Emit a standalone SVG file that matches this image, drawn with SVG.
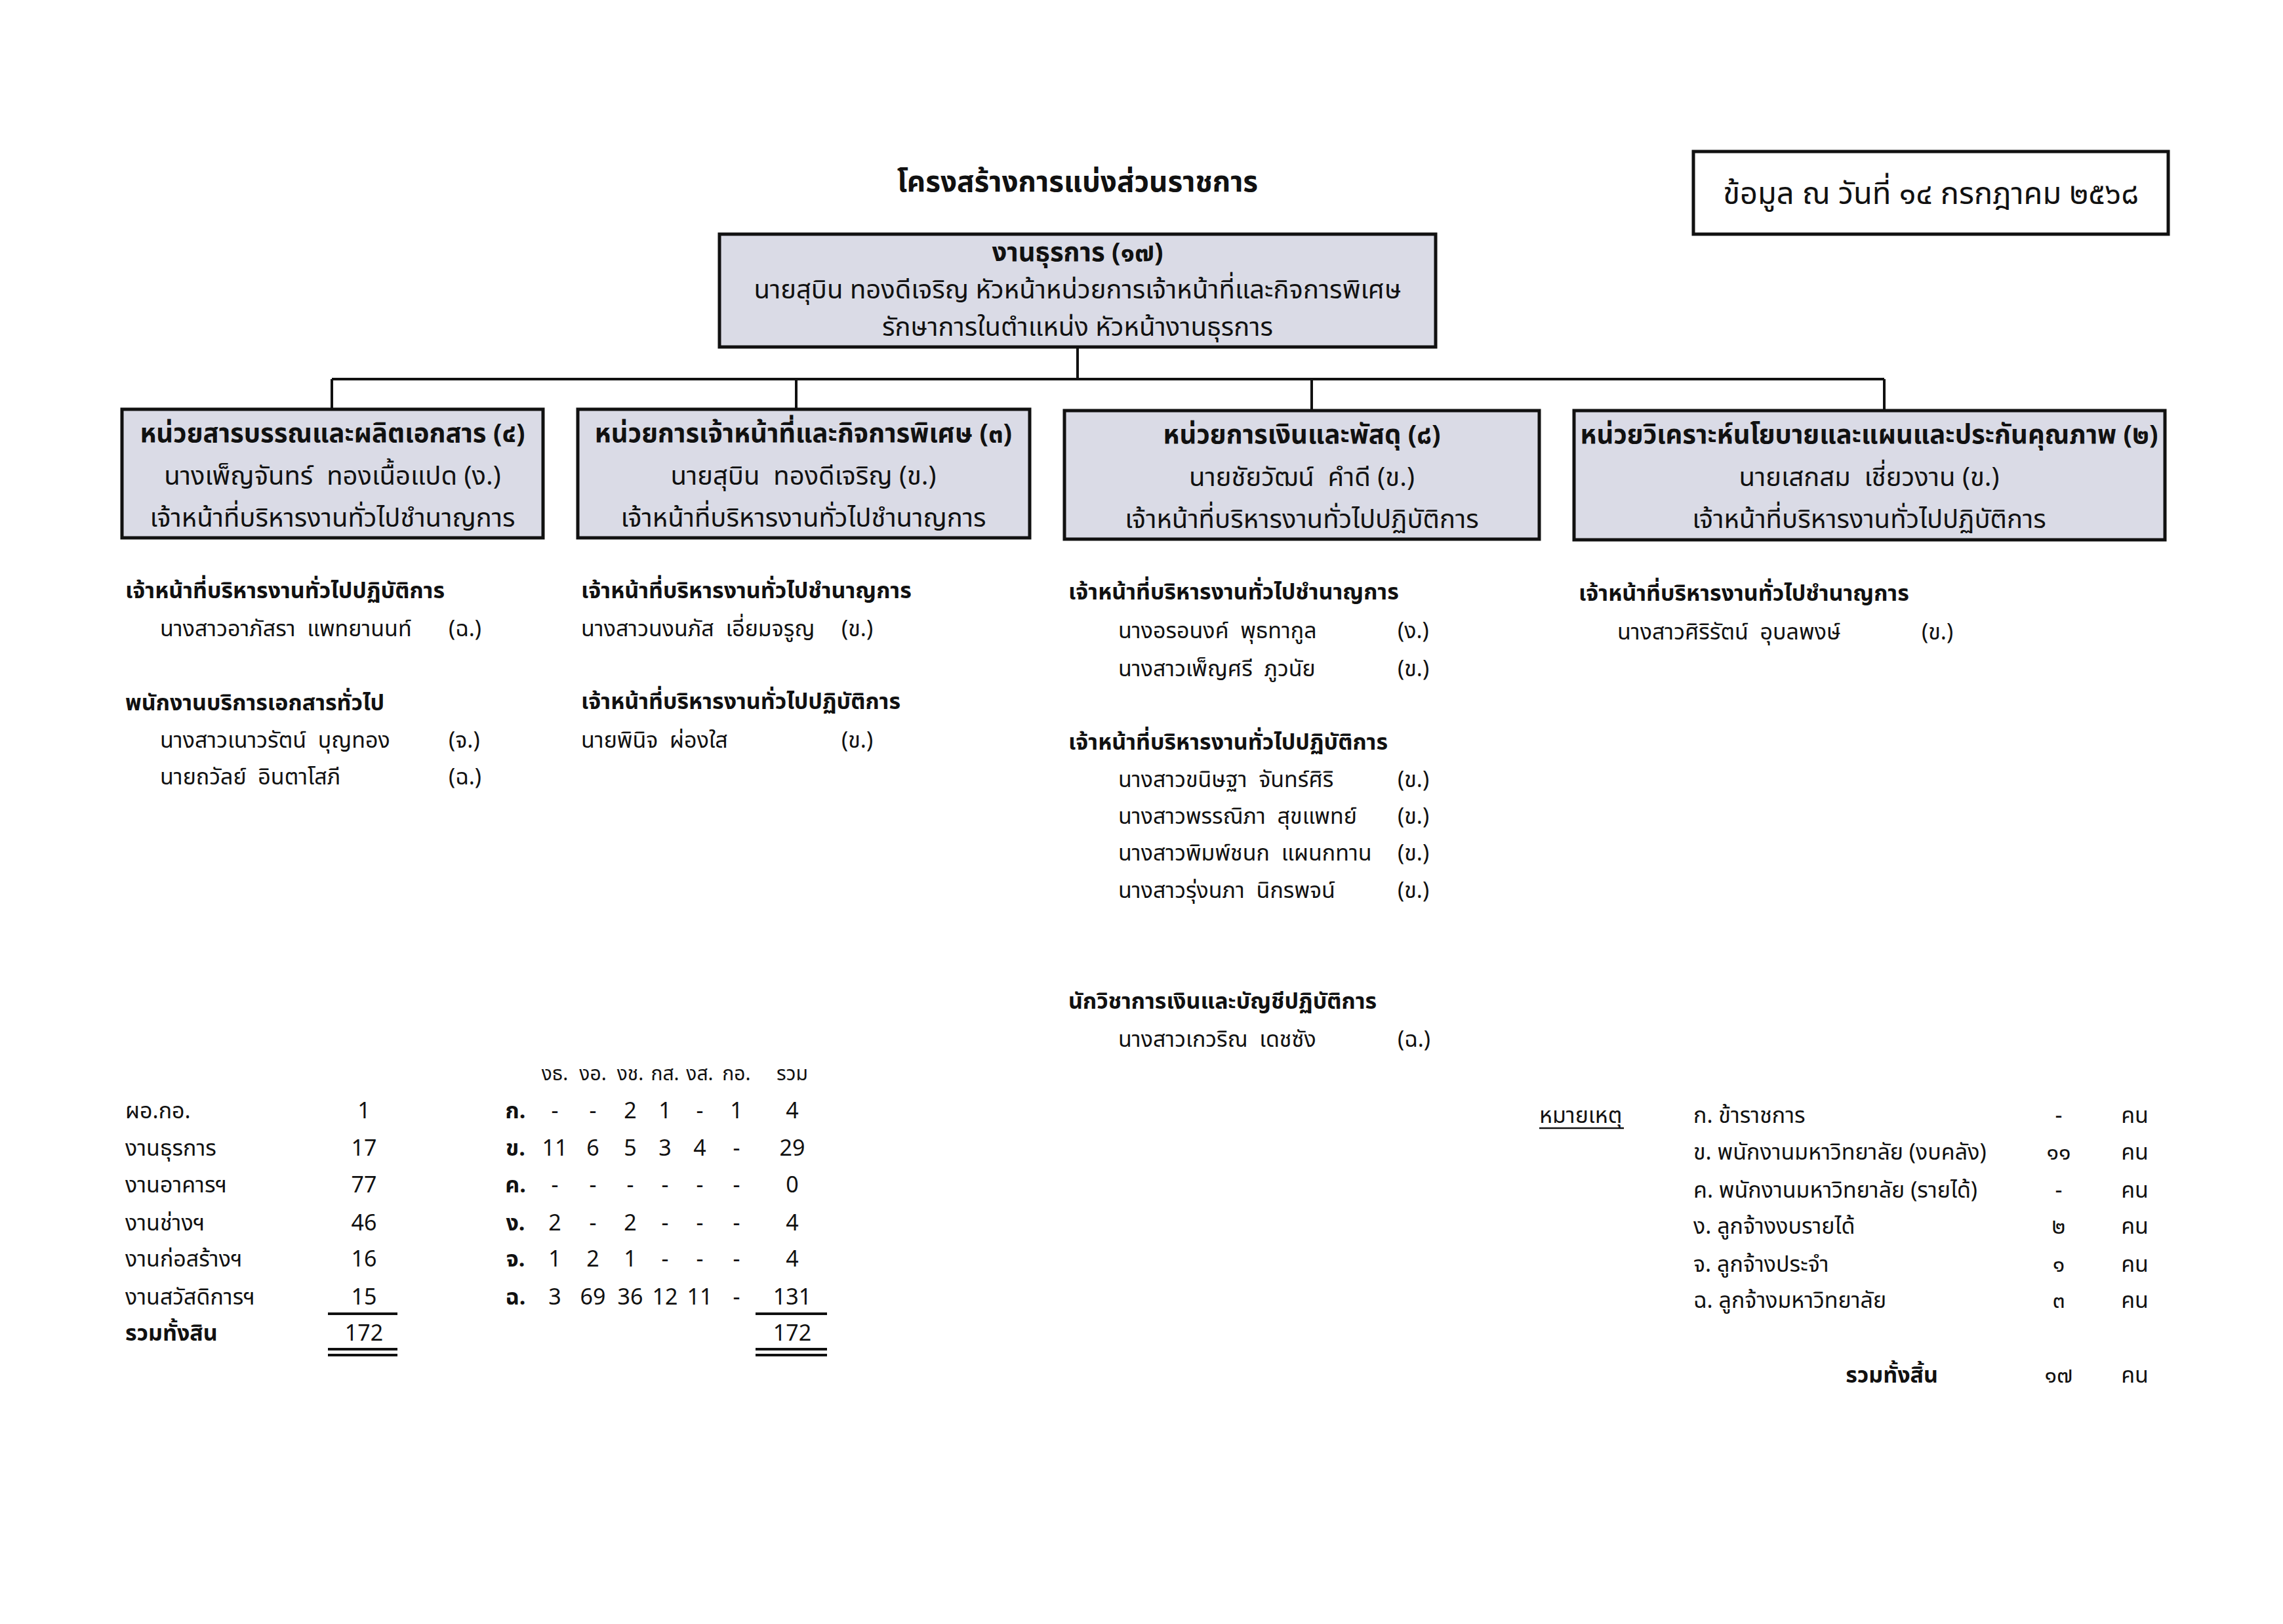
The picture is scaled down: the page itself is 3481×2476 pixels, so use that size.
<svg xmlns="http://www.w3.org/2000/svg" width="3481" height="2476" viewBox="0 0 3481 2476">
<style>
text{font-family:"Noto Sans Thai","Noto Sans","Liberation Sans",sans-serif;fill:#111}
.title{font-size:44px;font-weight:bold;text-anchor:middle}
.date{font-size:47px;text-anchor:middle}
.bx{fill:#dadbe6;stroke:#111;stroke-width:5}
.bt{font-size:40px;text-anchor:middle}
.b{font-weight:bold}
.l{font-size:34px}
.h{font-size:34px;font-weight:bold}
.t{font-size:34px}
.th{font-size:30px}
.c{text-anchor:middle}
.n{font-size:34px}
.con{stroke:#111;stroke-width:4;fill:none}
.ul{stroke:#111;stroke-width:4}
</style>
<rect width="3481" height="2476" fill="#fff"/>
<text class="title" x="1643" y="292">โครงสร้างการแบ่งส่วนราชการ</text>
<g id="date">
<rect x="2582" y="231" width="724" height="126" fill="#fff" stroke="#111" stroke-width="5"/>
<text class="date" x="2944" y="311">ข้อมูล ณ วันที่ ๑๔ กรกฎาคม ๒๕๖๘</text>
</g>
<g id="connectors">
<path class="con" d="M1643 530V578M506 578H2873M506 578V624M1214 578V624M2000 578V624M2873 578V624"/>
</g>
<g id="root">
<rect class="bx" x="1097" y="357" width="1092" height="172"/>
<text class="bt b" x="1643" y="398">งานธุรการ (๑๗)</text>
<text class="bt" x="1643" y="455">นายสุบิน ทองดีเจริญ หัวหน้าหน่วยการเจ้าหน้าที่และกิจการพิเศษ</text>
<text class="bt" x="1643" y="512">รักษาการในตำแหน่ง หัวหน้างานธุรการ</text>
</g>
<g id="unit1">
<rect class="bx" x="186" y="624" width="642" height="196"/>
<text class="bt b" x="507" y="674">หน่วยสารบรรณและผลิตเอกสาร (๔)</text>
<text class="bt" x="507" y="739">นางเพ็ญจันทร์&#160; ทองเนื้อแปด (ง.)</text>
<text class="bt" x="507" y="803">เจ้าหน้าที่บริหารงานทั่วไปชำนาญการ</text>
</g>
<g id="unit2">
<rect class="bx" x="881" y="624" width="689" height="196"/>
<text class="bt b" x="1225" y="674">หน่วยการเจ้าหน้าที่และกิจการพิเศษ (๓)</text>
<text class="bt" x="1225" y="739">นายสุบิน&#160; ทองดีเจริญ (ข.)</text>
<text class="bt" x="1225" y="803">เจ้าหน้าที่บริหารงานทั่วไปชำนาญการ</text>
</g>
<g id="unit3">
<rect class="bx" x="1623" y="626" width="724" height="196"/>
<text class="bt b" x="1985" y="676">หน่วยการเงินและพัสดุ (๘)</text>
<text class="bt" x="1985" y="741">นายชัยวัฒน์&#160; คำดี (ข.)</text>
<text class="bt" x="1985" y="805">เจ้าหน้าที่บริหารงานทั่วไปปฏิบัติการ</text>
</g>
<g id="unit4">
<rect class="bx" x="2400" y="626" width="901" height="197"/>
<text class="bt b" x="2850" y="676">หน่วยวิเคราะห์นโยบายและแผนและประกันคุณภาพ (๒)</text>
<text class="bt" x="2850" y="741">นายเสกสม&#160; เชี่ยวงาน (ข.)</text>
<text class="bt" x="2850" y="805">เจ้าหน้าที่บริหารงานทั่วไปปฏิบัติการ</text>
</g>
<g id="list1">
<text class="h" x="191" y="912">เจ้าหน้าที่บริหารงานทั่วไปปฏิบัติการ</text>
<text class="l" x="244" y="970">นางสาวอาภัสรา&#160; แพทยานนท์</text><text class="l" x="684" y="970">(ฉ.)</text>
<text class="h" x="191" y="1083">พนักงานบริการเอกสารทั่วไป</text>
<text class="l" x="244" y="1140">นางสาวเนาวรัตน์&#160; บุญทอง</text><text class="l" x="684" y="1140">(จ.)</text>
<text class="l" x="244" y="1196">นายถวัลย์&#160; อินตาโสภี</text><text class="l" x="684" y="1196">(ฉ.)</text>
</g>
<g id="list2">
<text class="h" x="886" y="912">เจ้าหน้าที่บริหารงานทั่วไปชำนาญการ</text>
<text class="l" x="886" y="970">นางสาวนงนภัส&#160; เอี่ยมจรูญ</text><text class="l" x="1283" y="970">(ข.)</text>
<text class="h" x="886" y="1081">เจ้าหน้าที่บริหารงานทั่วไปปฏิบัติการ</text>
<text class="l" x="886" y="1140">นายพินิจ&#160; ผ่องใส</text><text class="l" x="1283" y="1140">(ข.)</text>
</g>
<g id="list3">
<text class="h" x="1629" y="914">เจ้าหน้าที่บริหารงานทั่วไปชำนาญการ</text>
<text class="l" x="1705" y="973">นางอรอนงค์&#160; พุธทากูล</text><text class="l" x="2131" y="973">(ง.)</text>
<text class="l" x="1705" y="1031">นางสาวเพ็ญศรี&#160; ภูวนัย</text><text class="l" x="2131" y="1031">(ข.)</text>
<text class="h" x="1629" y="1143">เจ้าหน้าที่บริหารงานทั่วไปปฏิบัติการ</text>
<text class="l" x="1705" y="1200">นางสาวขนิษฐา&#160; จันทร์ศิริ</text><text class="l" x="2131" y="1200">(ข.)</text>
<text class="l" x="1705" y="1256">นางสาวพรรณิภา&#160; สุขแพทย์</text><text class="l" x="2131" y="1256">(ข.)</text>
<text class="l" x="1705" y="1312">นางสาวพิมพ์ชนก&#160; แผนกทาน</text><text class="l" x="2131" y="1312">(ข.)</text>
<text class="l" x="1705" y="1369">นางสาวรุ่งนภา&#160; นิกรพจน์</text><text class="l" x="2131" y="1369">(ข.)</text>
<text class="h" x="1629" y="1538">นักวิชาการเงินและบัญชีปฏิบัติการ</text>
<text class="l" x="1705" y="1596">นางสาวเกวริณ&#160; เดชซัง</text><text class="l" x="2131" y="1596">(ฉ.)</text>
</g>
<g id="list4">
<text class="h" x="2407" y="916">เจ้าหน้าที่บริหารงานทั่วไปชำนาญการ</text>
<text class="l" x="2466" y="975">นางสาวศิริรัตน์&#160; อุบลพงษ์</text><text class="l" x="2930" y="975">(ข.)</text>
</g>
<g id="summary-left">
<text class="t" x="191" y="1705">ผอ.กอ.</text><text class="t c" x="555" y="1705">1</text>
<text class="t" x="191" y="1762">งานธุรการ</text><text class="t c" x="555" y="1762">17</text>
<text class="t" x="191" y="1818">งานอาคารฯ</text><text class="t c" x="555" y="1818">77</text>
<text class="t" x="191" y="1876">งานช่างฯ</text><text class="t c" x="555" y="1876">46</text>
<text class="t" x="191" y="1931">งานก่อสร้างฯ</text><text class="t c" x="555" y="1931">16</text>
<text class="t" x="191" y="1989">งานสวัสดิการฯ</text><text class="t c" x="555" y="1989">15</text>
<text class="t b" x="191" y="2044">รวมทั้งสิน</text><text class="t c" x="555" y="2044">172</text>
<line class="ul" x1="500" y1="2003" x2="606" y2="2003"/>
<line class="ul" x1="500" y1="2057" x2="606" y2="2057"/>
<line class="ul" x1="500" y1="2066" x2="606" y2="2066"/>
</g>
<g id="summary-table">
<g class="th c">
<text x="846" y="1647">งธ.</text><text x="904" y="1647">งอ.</text><text x="961" y="1647">งช.</text><text x="1014" y="1647">กส.</text><text x="1067" y="1647">งส.</text><text x="1123" y="1647">กอ.</text><text x="1208" y="1647">รวม</text>
</g>
<g class="t b c">
<text x="786" y="1705">ก.</text><text x="786" y="1762">ข.</text><text x="786" y="1818">ค.</text><text x="786" y="1876">ง.</text><text x="786" y="1931">จ.</text><text x="786" y="1989">ฉ.</text>
</g>
<g class="t c">
<text x="846" y="1705">-</text><text x="904" y="1705">-</text><text x="961" y="1705">2</text><text x="1014" y="1705">1</text><text x="1067" y="1705">-</text><text x="1123" y="1705">1</text><text x="1208" y="1705">4</text>
<text x="846" y="1762">11</text><text x="904" y="1762">6</text><text x="961" y="1762">5</text><text x="1014" y="1762">3</text><text x="1067" y="1762">4</text><text x="1123" y="1762">-</text><text x="1208" y="1762">29</text>
<text x="846" y="1818">-</text><text x="904" y="1818">-</text><text x="961" y="1818">-</text><text x="1014" y="1818">-</text><text x="1067" y="1818">-</text><text x="1123" y="1818">-</text><text x="1208" y="1818">0</text>
<text x="846" y="1876">2</text><text x="904" y="1876">-</text><text x="961" y="1876">2</text><text x="1014" y="1876">-</text><text x="1067" y="1876">-</text><text x="1123" y="1876">-</text><text x="1208" y="1876">4</text>
<text x="846" y="1931">1</text><text x="904" y="1931">2</text><text x="961" y="1931">1</text><text x="1014" y="1931">-</text><text x="1067" y="1931">-</text><text x="1123" y="1931">-</text><text x="1208" y="1931">4</text>
<text x="846" y="1989">3</text><text x="904" y="1989">69</text><text x="961" y="1989">36</text><text x="1014" y="1989">12</text><text x="1067" y="1989">11</text><text x="1123" y="1989">-</text><text x="1208" y="1989">131</text>
<text x="1208" y="2044">172</text>
</g>
<line class="ul" x1="1152" y1="2003" x2="1261" y2="2003"/>
<line class="ul" x1="1152" y1="2057" x2="1261" y2="2057"/>
<line class="ul" x1="1152" y1="2066" x2="1261" y2="2066"/>
</g>
<g id="notes">
<text class="n" x="2347" y="1712">หมายเหตุ</text>
<line x1="2347" y1="1720" x2="2476" y2="1720" stroke="#111" stroke-width="2.5"/>
<text class="n" x="2582" y="1712">ก. ข้าราชการ</text>
<text class="n" x="2582" y="1768">ข. พนักงานมหาวิทยาลัย (งบคลัง)</text>
<text class="n" x="2582" y="1826">ค. พนักงานมหาวิทยาลัย (รายได้)</text>
<text class="n" x="2582" y="1881">ง. ลูกจ้างงบรายได้</text>
<text class="n" x="2582" y="1939">จ. ลูกจ้างประจำ</text>
<text class="n" x="2582" y="1994">ฉ. ลูกจ้างมหาวิทยาลัย</text>
<g class="n c">
<text x="3139" y="1712">-</text><text x="3139" y="1768">๑๑</text><text x="3139" y="1826">-</text><text x="3139" y="1881">๒</text><text x="3139" y="1939">๑</text><text x="3139" y="1994">๓</text><text x="3139" y="2108">๑๗</text>
<text x="3255" y="1712">คน</text><text x="3255" y="1768">คน</text><text x="3255" y="1826">คน</text><text x="3255" y="1881">คน</text><text x="3255" y="1939">คน</text><text x="3255" y="1994">คน</text><text x="3255" y="2108">คน</text>
</g>
<text class="n b" x="2955" y="2108" text-anchor="end">รวมทั้งสิ้น</text>
</g>
</svg>
